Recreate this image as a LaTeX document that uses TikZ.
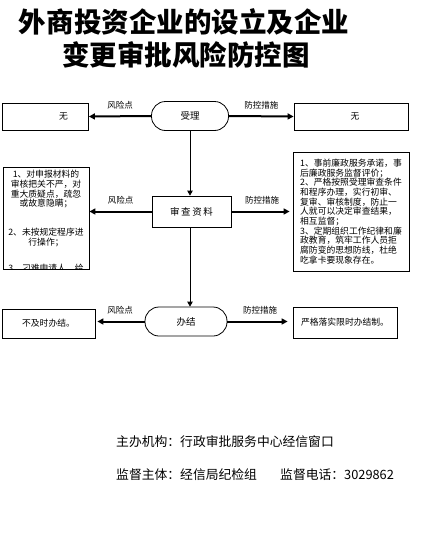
\documentclass[tikz,border=0pt]{standalone}
\usepackage{fontspec}
\setmainfont{Noto Sans CJK SC}
\usetikzlibrary{positioning, arrows.meta}

\begin{document}
\begin{tikzpicture}[
  x=1pt, y=-1pt,
  box/.style={draw, line width=0.8pt, inner sep=0pt, font=\fontsize{8.8}{9.7}\selectfont},
  stadium/.style={draw, line width=0.8pt, rounded corners=14pt, minimum width=77pt, minimum height=29pt, font=\fontsize{9.5}{11}\selectfont},
  tag/.style={font=\fontsize{8.5}{10}\selectfont},
  foot/.style={font=\fontsize{12.8}{14}\selectfont, anchor=west, inner sep=0pt},
  arrow/.style={-{Triangle[length=6pt,width=6pt]}, line width=2pt},
  flow/.style={-{Triangle[length=5pt,width=5.5pt]}, line width=0.8pt}
]
  \useasboundingbox[fill=white] (0,0) rectangle (447,546);

  % Title
  \node[font=\fontsize{27.5}{30}\selectfont\bfseries] (title1) at (184,22) {外商投资企业的设立及企业};
  \node[font=\fontsize{27.5}{30}\selectfont\bfseries] (title2) at (186,55) {变更审批风险防控图};

  % Step 1: accept
  \node[stadium] (shouli) at (190,116) {受理};
  \node[box, minimum width=86pt, minimum height=27pt] (riskA) at (45.5,116.5) {\hspace{36pt}无};
  \node[box, minimum width=114pt, minimum height=27pt] (ctrlA) at (351,116.5) {\hspace{8pt}无};
  \draw[arrow] (shouli.west) -- node[tag, above=3pt] {风险点} (riskA.east);
  \draw[arrow] (shouli.east) -- node[tag, above=3pt] {防控措施} (ctrlA.west);

  % Step 2: review
  \node[box, minimum width=79pt, minimum height=31pt, font=\fontsize{9.5}{11}\selectfont] (shencha) at (191.5,211.5) {审\,查\,资\,料};
  \node[box, minimum width=86pt, minimum height=102pt] (riskB) at (46,218) {};
  \begin{scope}
    \clip (riskB.south west) rectangle (riskB.north east);
    \node[box, draw=none, align=center, anchor=north] (riskBtext) at (46,170)
      {1、对申报材料的\\审核把关不严，对\\重大质疑点，疏忽\\或故意隐瞒；\\[19.3pt]
       2、未按规定程序进\\行操作；\\[16.3pt]3、刁难申请人，给};
  \end{scope}
  \node[box, minimum width=116pt, minimum height=119pt, align=left] (ctrlB) at (351,211.5)
    {1、事前廉政服务承诺，事\\后廉政服务监督评价；\\2、严格按照受理审查条件\\和程序办理，实行初审、\\复审、审核制度，防止一\\人就可以决定审查结果，\\相互监督；\\3、定期组织工作纪律和廉\\政教育，筑牢工作人员拒\\腐防变的思想防线，杜绝\\吃拿卡要现象存在。};
  \draw[flow] (shouli.south) -- (shouli.south |- shencha.north);
  \draw[arrow] (shencha.west) -- node[tag, above=3pt] {风险点} (riskB.east |- shencha.west);
  \draw[arrow, shorten >=3pt] (shencha.east) -- node[tag, above=3pt] {防控措施} (ctrlB.west |- shencha.east);

  % Step 3: finish
  \node[stadium, minimum width=82pt] (banjie) at (186,321.5) {办结};
  \node[box, minimum width=93pt, minimum height=29pt] (riskC) at (48.5,323.5) {不及时办结。};
  \node[box, minimum width=104pt, minimum height=31pt] (ctrlC) at (345,322.5) {严格落实限时办结制。};
  \draw[flow] (shencha.south -| shouli.south) -- (shouli.south |- banjie.north);
  \draw[arrow, shorten >=2pt] (banjie.west) -- node[tag, above=3pt] {风险点} (riskC.east |- banjie.west);
  \draw[arrow, shorten >=5pt] (banjie.east) -- node[tag, above=3pt] {防控措施} (ctrlC.west |- banjie.east);

  % Footer
  \node[foot] (host) at (116,442) {主办机构：行政审批服务中心经信窗口};
  \node[foot] (monitor) at (116,475) {监督主体：经信局纪检组};
  \node[foot] (phone) at (280,475) {监督电话：3029862};
\end{tikzpicture}
\end{document}
